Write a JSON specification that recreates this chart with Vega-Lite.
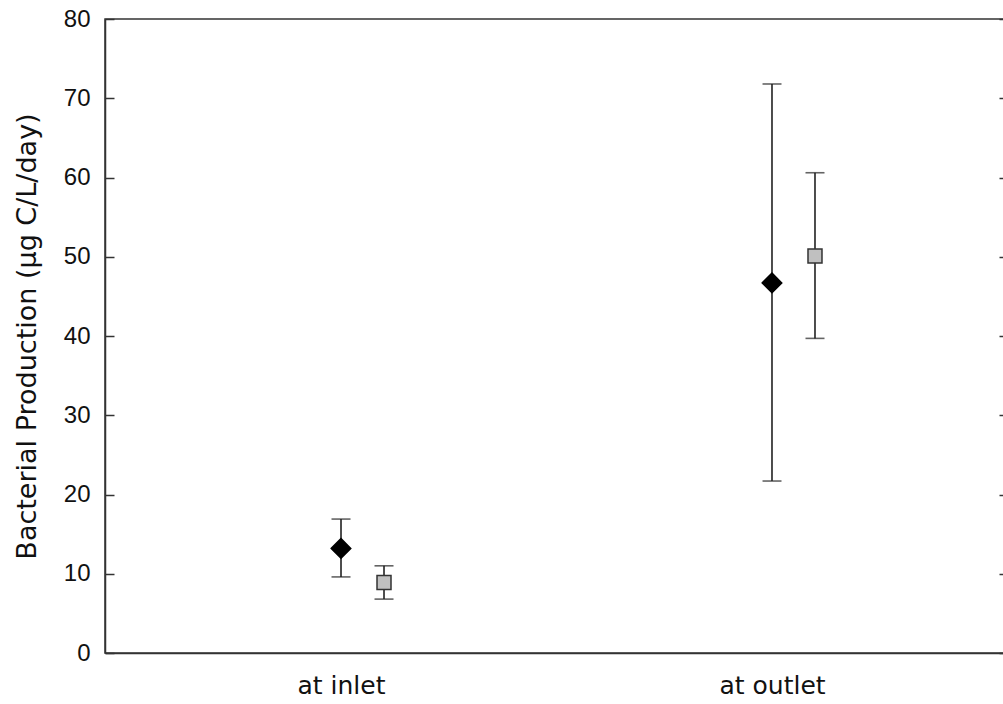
{
  "$schema": "https://vega.github.io/schema/vega-lite/v6.json",
  "autosize": "none",
  "padding": {"left": 105, "top": 19, "right": 0, "bottom": 51},
  "width": 903,
  "height": 634,
  "background": "white",
  "config": {
    "font": "Liberation Sans",
    "view": {"stroke": "#333333", "strokeWidth": 1.5},
    "axis": {"grid": false, "domainColor": "#333333", "domainWidth": 1.5, "tickColor": "#333333", "tickWidth": 1.5, "labelColor": "#111111", "titleColor": "#111111", "labelFont": "Liberation Sans", "titleFont": "DejaVu Sans", "labelFontSize": 24, "titleFontSize": 27, "titleFontWeight": "normal"}
  },
  "data": {"values": [
    {"site": "at inlet", "series": "A", "mean": 13.2, "lo": 9.6, "hi": 16.9},
    {"site": "at inlet", "series": "B", "mean": 8.9, "lo": 6.8, "hi": 11.0},
    {"site": "at outlet", "series": "A", "mean": 46.7, "lo": 21.7, "hi": 71.8},
    {"site": "at outlet", "series": "B", "mean": 50.1, "lo": 39.7, "hi": 60.6}
  ]},
  "encoding": {
    "x": {"field": "site", "type": "nominal", "scale": {"type": "point", "padding": 0.5476}, "axis": {"title": null, "ticks": false, "labelAngle": 0, "labelPadding": 20, "labelFont": "DejaVu Sans", "labelFontSize": 25, "domainColor": "#333333"}},
    "xOffset": {"field": "series", "type": "nominal", "scale": {"type": "point", "domain": ["A", "B"], "range": [0, 43], "padding": 0}}
  },
  "layer": [
    {
      "mark": {"type": "rule", "color": "#222222", "strokeWidth": 1.6},
      "encoding": {
        "y": {"field": "lo", "type": "quantitative", "scale": {"domain": [0, 80], "nice": false}, "axis": {"title": "Bacterial Production (µg C/L/day)", "values": [0, 10, 20, 30, 40, 50, 60, 70, 80], "tickSize": -9, "labelPadding": 24, "titlePadding": 22}},
        "y2": {"field": "hi"}
      }
    },
    {
      "mark": {"type": "tick", "color": "#222222", "thickness": 1.6, "size": 19, "orient": "horizontal"},
      "encoding": {"y": {"field": "lo", "type": "quantitative", "axis": {"orient": "right", "labels": false, "title": null, "values": [0, 10, 20, 30, 40, 50, 60, 70, 80], "tickSize": -9}}}
    },
    {
      "mark": {"type": "tick", "color": "#222222", "thickness": 1.6, "size": 19, "orient": "horizontal"},
      "encoding": {"y": {"field": "hi", "type": "quantitative", "axis": null}}
    },
    {
      "mark": {"type": "point", "filled": true, "opacity": 1, "strokeWidth": 1.5},
      "encoding": {
        "y": {"field": "mean", "type": "quantitative", "axis": null},
        "shape": {"field": "series", "type": "nominal", "scale": {"domain": ["A", "B"], "range": ["diamond", "square"]}, "legend": null},
        "fill": {"field": "series", "type": "nominal", "scale": {"domain": ["A", "B"], "range": ["#000000", "#c0c0c0"]}, "legend": null},
        "stroke": {"field": "series", "type": "nominal", "scale": {"domain": ["A", "B"], "range": ["#000000", "#333333"]}, "legend": null},
        "size": {"field": "series", "type": "nominal", "scale": {"domain": ["A", "B"], "range": [380, 196]}, "legend": null}
      }
    }
  ],
  "resolve": {"axis": {"y": "independent"}}
}
